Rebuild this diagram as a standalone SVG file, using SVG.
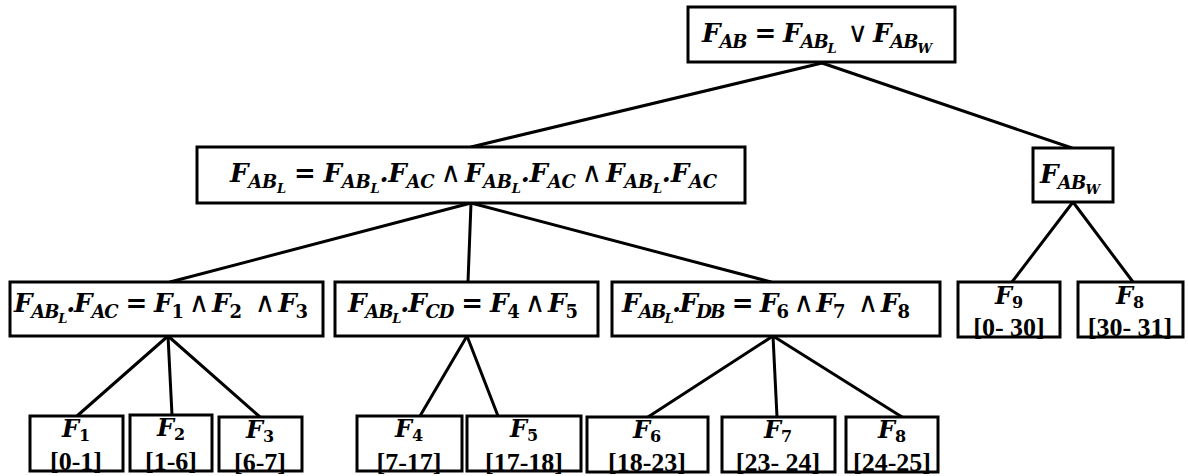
<svg xmlns="http://www.w3.org/2000/svg" width="1188" height="476" viewBox="0 0 1188 476">
<style>
.box{fill:#fff;stroke:#000;stroke-width:3}
.conn line{stroke:#000;stroke-width:3;stroke-linecap:round}
.m{font-family:"DejaVu Serif","Liberation Serif",serif;font-weight:bold;font-style:italic;font-size:26px;fill:#000}
.s{font-size:18px}
.ss{font-size:13px}
.n{font-style:normal}
.eq{font-style:normal}
.o{font-family:"DejaVu Sans","Liberation Sans",sans-serif;font-weight:normal;font-style:normal;font-size:28px}
.fi{font-size:24px}
.fi .s{font-size:16px}
.lbl{font-family:"Liberation Serif",serif;font-weight:bold;font-size:26px;text-anchor:middle;fill:#000}
</style>
<rect width="1188" height="476" fill="#fff"/>
<g id="connectors" class="conn">
<line x1="822" y1="63" x2="471" y2="147"/>
<line x1="822" y1="63" x2="1072" y2="148"/>
<line x1="471" y1="203" x2="170" y2="282"/>
<line x1="471" y1="203" x2="468" y2="282"/>
<line x1="471" y1="203" x2="771" y2="282"/>
<line x1="1073" y1="202" x2="1012" y2="282"/>
<line x1="1073" y1="202" x2="1133" y2="282"/>
<line x1="168" y1="336" x2="77" y2="416"/>
<line x1="168" y1="336" x2="172" y2="415"/>
<line x1="168" y1="336" x2="260" y2="417"/>
<line x1="467" y1="336" x2="420" y2="416"/>
<line x1="467" y1="336" x2="498" y2="416"/>
<line x1="773" y1="336" x2="648" y2="417"/>
<line x1="773" y1="336" x2="777" y2="417"/>
<line x1="773" y1="336" x2="902" y2="417"/>
</g>
<g id="n-top">
<rect class="box" x="688" y="7" width="267" height="55"/>
<text class="m" x="702" y="42" textLength="230" lengthAdjust="spacing"><tspan>F</tspan><tspan class="s" dy="6">AB</tspan><tspan class="eq" dy="-6" dx="8">=</tspan><tspan dx="8">F</tspan><tspan class="s" dy="6">AB</tspan><tspan class="ss" dy="5">L</tspan><tspan class="o" dy="-11" dx="12">∨</tspan><tspan dx="6">F</tspan><tspan class="s" dy="6">AB</tspan><tspan class="ss" dy="5">W</tspan></text>
</g>
<g id="n-abl">
<rect class="box" x="197" y="147" width="548" height="56"/>
<text class="m" x="230" y="182" textLength="487" lengthAdjust="spacing"><tspan>F</tspan><tspan class="s" dy="6">AB</tspan><tspan class="ss" dy="5">L</tspan><tspan class="eq" dy="-11" dx="8">=</tspan><tspan dx="8">F</tspan><tspan class="s" dy="6">AB</tspan><tspan class="ss" dy="5">L</tspan><tspan dy="-11">.F</tspan><tspan class="s" dy="6">AC</tspan><tspan class="o" dy="-6" dx="6">∧</tspan><tspan dx="4">F</tspan><tspan class="s" dy="6">AB</tspan><tspan class="ss" dy="5">L</tspan><tspan dy="-11">.F</tspan><tspan class="s" dy="6">AC</tspan><tspan class="o" dy="-6" dx="6">∧</tspan><tspan dx="4">F</tspan><tspan class="s" dy="6">AB</tspan><tspan class="ss" dy="5">L</tspan><tspan dy="-11">.F</tspan><tspan class="s" dy="6">AC</tspan></text>
</g>
<g id="n-abw">
<rect class="box" x="1033" y="148" width="80" height="54"/>
<text class="m" x="1040" y="183" textLength="60" lengthAdjust="spacing"><tspan>F</tspan><tspan class="s" dy="6">AB</tspan><tspan class="ss" dy="5">W</tspan></text>
</g>
<g id="n-ac">
<rect class="box" x="10" y="282" width="313" height="54"/>
<text class="m" x="14" y="312" textLength="294" lengthAdjust="spacing"><tspan>F</tspan><tspan class="s" dy="6">AB</tspan><tspan class="ss" dy="5">L</tspan><tspan dy="-11">.F</tspan><tspan class="s" dy="6">AC</tspan><tspan class="eq" dy="-6" dx="8">=</tspan><tspan dx="8">F</tspan><tspan class="s n" dy="6">1</tspan><tspan class="o" dy="-6" dx="6">∧</tspan><tspan dx="4">F</tspan><tspan class="s n" dy="6">2</tspan><tspan class="o" dy="-6" dx="14">∧</tspan><tspan dx="4">F</tspan><tspan class="s n" dy="6">3</tspan></text>
</g>
<g id="n-cd">
<rect class="box" x="335" y="282" width="263" height="54"/>
<text class="m" x="348" y="312" textLength="230" lengthAdjust="spacing"><tspan>F</tspan><tspan class="s" dy="6">AB</tspan><tspan class="ss" dy="5">L</tspan><tspan dy="-11">.F</tspan><tspan class="s" dy="6">CD</tspan><tspan class="eq" dy="-6" dx="8">=</tspan><tspan dx="8">F</tspan><tspan class="s n" dy="6">4</tspan><tspan class="o" dy="-6" dx="6">∧</tspan><tspan dx="4">F</tspan><tspan class="s n" dy="6">5</tspan></text>
</g>
<g id="n-db">
<rect class="box" x="612" y="282" width="328" height="54"/>
<text class="m" x="622" y="312" textLength="288" lengthAdjust="spacing"><tspan>F</tspan><tspan class="s" dy="6">AB</tspan><tspan class="ss" dy="5">L</tspan><tspan dy="-11">.F</tspan><tspan class="s" dy="6">DB</tspan><tspan class="eq" dy="-6" dx="8">=</tspan><tspan dx="8">F</tspan><tspan class="s n" dy="6">6</tspan><tspan class="o" dy="-6" dx="6">∧</tspan><tspan dx="4">F</tspan><tspan class="s n" dy="6">7</tspan><tspan class="o" dy="-6" dx="14">∧</tspan><tspan dx="4">F</tspan><tspan class="s n" dy="6">8</tspan></text>
</g>
<g id="n-f9">
<rect class="box" x="958" y="282" width="102" height="55"/>
<text class="m fi" x="1009" y="304" text-anchor="middle"><tspan>F</tspan><tspan class="s n" dy="4">9</tspan></text>
<text class="lbl" x="1009" y="336">[0- 30]</text>
</g>
<g id="n-f8b">
<rect class="box" x="1078" y="282" width="105" height="55"/>
<text class="m fi" x="1130" y="304" text-anchor="middle"><tspan>F</tspan><tspan class="s n" dy="4">8</tspan></text>
<text class="lbl" x="1130" y="336">[30- 31]</text>
</g>
<g id="n-f1">
<rect class="box" x="30" y="416" width="93" height="55"/>
<text class="m fi" x="76" y="437" text-anchor="middle"><tspan>F</tspan><tspan class="s n" dy="4">1</tspan></text>
<text class="lbl" x="76" y="470">[0-1]</text>
</g>
<g id="n-f2">
<rect class="box" x="130" y="415" width="82" height="56"/>
<text class="m fi" x="171" y="436" text-anchor="middle"><tspan>F</tspan><tspan class="s n" dy="4">2</tspan></text>
<text class="lbl" x="171" y="470">[1-6]</text>
</g>
<g id="n-f3">
<rect class="box" x="219" y="417" width="83" height="54"/>
<text class="m fi" x="260" y="438" text-anchor="middle"><tspan>F</tspan><tspan class="s n" dy="4">3</tspan></text>
<text class="lbl" x="260" y="471">[6-7]</text>
</g>
<g id="n-f4">
<rect class="box" x="357" y="416" width="105" height="55"/>
<text class="m fi" x="409" y="437" text-anchor="middle"><tspan>F</tspan><tspan class="s n" dy="4">4</tspan></text>
<text class="lbl" x="409" y="471">[7-17]</text>
</g>
<g id="n-f5">
<rect class="box" x="467" y="416" width="114" height="55"/>
<text class="m fi" x="524" y="437" text-anchor="middle"><tspan>F</tspan><tspan class="s n" dy="4">5</tspan></text>
<text class="lbl" x="524" y="471">[17-18]</text>
</g>
<g id="n-f6">
<rect class="box" x="587" y="417" width="121" height="55"/>
<text class="m fi" x="647" y="438" text-anchor="middle"><tspan>F</tspan><tspan class="s n" dy="4">6</tspan></text>
<text class="lbl" x="647" y="471">[18-23]</text>
</g>
<g id="n-f7">
<rect class="box" x="722" y="417" width="113" height="55"/>
<text class="m fi" x="778" y="438" text-anchor="middle"><tspan>F</tspan><tspan class="s n" dy="4">7</tspan></text>
<text class="lbl" x="778" y="471">[23- 24]</text>
</g>
<g id="n-f8">
<rect class="box" x="846" y="417" width="92" height="55"/>
<text class="m fi" x="892" y="438" text-anchor="middle"><tspan>F</tspan><tspan class="s n" dy="4">8</tspan></text>
<text class="lbl" x="892" y="471">[24-25]</text>
</g>
</svg>
